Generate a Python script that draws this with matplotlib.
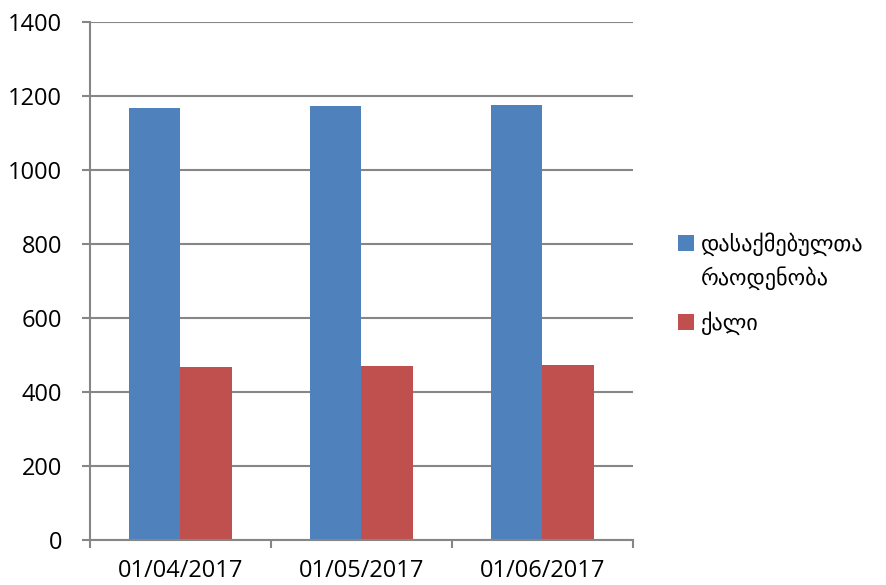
import numpy as np
import matplotlib
matplotlib.use("Agg")
from matplotlib import pyplot as plt

# data
dates = ["01/04/2017", "01/05/2017", "01/06/2017"]
employed = [1167, 1172, 1177]
women = [467, 470, 473]
series_names = ["დასაქმებულთა\nრაოდენობა", "ქალი"]
y_ticks = [0, 200, 400, 600, 800, 1000, 1200, 1400]

plt.rcParams['font.family'] = ['Open Sans', 'DejaVu Sans']
grid_col = "#868686"

fig = plt.figure(figsize=(8.87, 5.85), dpi=100)
ax = fig.add_axes([90 / 887, 45 / 585, 543 / 887, 518 / 585])

x = np.arange(len(dates))
width = 1 / 3.5
b1 = ax.bar(x - width / 2, employed, width, color="#4F81BD", label=series_names[0])
b2 = ax.bar(x + width / 2, women, width, color="#C0504D", label=series_names[1])

ax.set_xlim(-0.5, len(dates) - 0.5)
ax.set_ylim(0, 1400)
ax.set_yticks(y_ticks)
ax.set_xticks(x)
ax.set_xticklabels(dates)
# category boundary ticks like Excel
ax.set_xticks(np.arange(-0.5, len(dates)), minor=True)
ax.tick_params(axis="x", which="major", length=0, pad=14, labelsize=17)
ax.tick_params(axis="x", which="minor", length=6, color=grid_col, width=1.5)
ax.tick_params(axis="y", length=6, color=grid_col, width=1.5, labelsize=17, pad=14)

ax.yaxis.grid(True, color=grid_col, linewidth=1.5)
ax.set_axisbelow(True)
for side in ["top", "right"]:
    ax.spines[side].set_visible(False)
for side in ["left", "bottom"]:
    ax.spines[side].set_color(grid_col)
    ax.spines[side].set_linewidth(1.5)

leg = fig.legend(handles=[b1, b2], loc="upper left",
                 bbox_to_anchor=(658 / 887, 1 - 212 / 585),
                 frameon=False, handlelength=0.72, handleheight=0.72,
                 handletextpad=0.3, labelspacing=0.95,
                 prop={"family": ["DejaVu Sans"], "size": 16})
for t in leg.get_texts():
    t.set_linespacing(1.6)
# put the first square next to the first line of its two-line label
h0 = leg.legend_handles[0]
h0.set_y(h0.get_y() + 13)

fig.savefig("out.png", dpi=100)
